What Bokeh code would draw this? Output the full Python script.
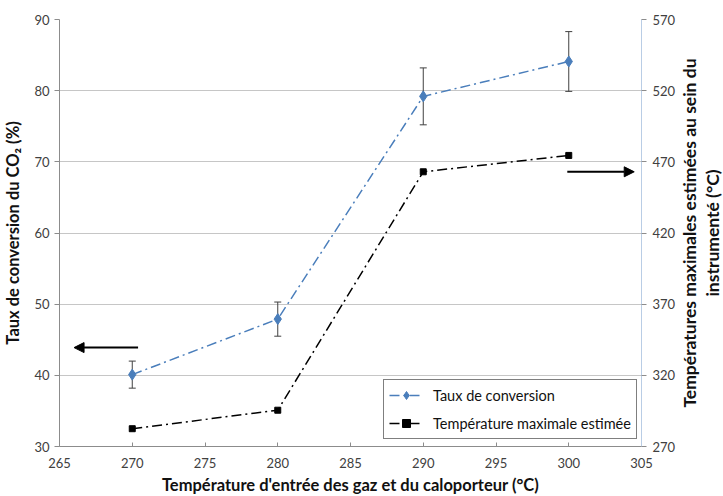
from bokeh.plotting import figure
from bokeh.layouts import row
from bokeh.models import (Range1d, LinearAxis, FixedTicker, ColumnDataSource, Whisker,
                          Arrow, NormalHead, Legend, LegendItem, Title)
from bokeh.embed import file_html
from bokeh.resources import INLINE

# ---- data ----
temp_in = [270, 280, 290, 300]
conversion = [40.1, 47.9, 79.2, 84.1]
conv_err = [1.9, 2.4, 4.0, 4.2]
temp_max = [282.5, 295.5, 463.0, 474.5]

x_ticks = [265, 270, 275, 280, 285, 290, 295, 300, 305]
left_ticks = [30, 40, 50, 60, 70, 80, 90]
right_ticks = [270, 320, 370, 420, 470, 520, 570]

arrow_left = dict(x_start=270.4, x_end=266.0, y=43.9)
arrow_right = dict(x_start=299.9, x_end=304.5, y=68.6)

RIGHT_LABEL_LINES = ["Températures maximales estimées au sein du", "instrumenté (°C)"]

FONT = "Lato"
BLUE = "#4a7ebb"
TICK_COLOR = "#404040"
TOP, BOTTOM = 19, 46

p = figure(frame_width=582, frame_height=427, output_backend="svg", toolbar_location=None,
           x_range=Range1d(265, 305), y_range=Range1d(30, 90),
           min_border_left=55, min_border_top=TOP, min_border_right=36, min_border_bottom=BOTTOM)
p.extra_y_ranges = {"temp": Range1d(270, 570)}
p.outline_line_color = None
p.background_fill_color = "white"
p.border_fill_color = "white"

p.xgrid.visible = False
p.ygrid.grid_line_color = "#c6c6c6"
p.ygrid.ticker = FixedTicker(ticks=left_ticks)

def style_axis(ax):
    ax.major_label_text_font = FONT
    ax.major_label_text_font_size = "13px"
    ax.major_label_text_color = TICK_COLOR
    ax.axis_label_text_font = FONT
    ax.axis_label_text_font_size = "16.5px"
    ax.axis_label_text_font_style = "bold"
    ax.axis_label_text_color = "#111111"
    ax.minor_tick_line_color = None
    ax.major_tick_line_color = "#8c8c8c"
    ax.axis_line_color = "#8c8c8c"

xa = p.xaxis[0]
xa.ticker = FixedTicker(ticks=x_ticks)
xa.axis_label = "Température d'entrée des gaz et du caloporteur (°C)"
style_axis(xa)
xa.major_tick_in = 4
xa.major_tick_out = 0
xa.major_label_standoff = 11
xa.axis_label_standoff = 4

ya = p.yaxis[0]
ya.ticker = FixedTicker(ticks=left_ticks)
ya.axis_label = "Taux de conversion du CO₂ (%)"
style_axis(ya)
ya.major_tick_in = 0
ya.major_tick_out = 5
ya.major_label_standoff = 5
ya.axis_label_standoff = 8

ra = LinearAxis(y_range_name="temp", ticker=FixedTicker(ticks=right_ticks))
style_axis(ra)
ra.axis_line_color = "#b9cde5"
ra.major_tick_in = 0
ra.major_tick_out = 5
ra.major_label_standoff = 6
p.add_layout(ra, "right")

src = ColumnDataSource(dict(x=temp_in, y=conversion,
                            lo=[c - e for c, e in zip(conversion, conv_err)],
                            hi=[c + e for c, e in zip(conversion, conv_err)],
                            t=temp_max))

w = Whisker(base="x", lower="lo", upper="hi", source=src, line_color="#404040", line_width=1)
w.upper_head.size = 7
w.lower_head.size = 7
w.upper_head.line_color = "#404040"
w.lower_head.line_color = "#404040"
p.add_layout(w)

l1 = p.line("x", "y", source=src, line_color=BLUE, line_width=1.5, line_dash="10 4 2 4")
m1 = p.scatter("x", "y", source=src, marker="diamond", size=11, fill_color=BLUE, line_color=BLUE)
l2 = p.line("x", "t", source=src, y_range_name="temp", line_color="black", line_width=1.5,
            line_dash="10 4 2 4")
m2 = p.scatter("x", "t", source=src, y_range_name="temp", marker="square", size=6,
               fill_color="black", line_color="black")

for a in (arrow_left, arrow_right):
    p.add_layout(Arrow(end=NormalHead(size=10, fill_color="black", line_color="black"),
                       x_start=a["x_start"], y_start=a["y"], x_end=a["x_end"], y_end=a["y"],
                       line_width=2, line_color="black"))

legend = Legend(items=[LegendItem(label="Taux de conversion", renderers=[l1, m1]),
                       LegendItem(label="Température maximale estimée", renderers=[l2, m2])],
                location=(324, 7), border_line_color="black", border_line_width=1,
                label_text_font=FONT, label_text_font_size="14.5px", label_text_color="#111111",
                glyph_width=34, label_standoff=10, spacing=8, padding=5, margin=0,
                background_fill_alpha=1.0)
p.add_layout(legend, "center")

# narrow side figure carrying the right-hand axis title (reads bottom to top)
p2 = figure(width=44, frame_height=427, output_backend="svg", toolbar_location=None,
            x_axis_location=None, y_axis_location=None,
            min_border_left=0, min_border_right=0, min_border_top=TOP, min_border_bottom=BOTTOM)
p2.grid.visible = False
p2.outline_line_color = None
p2.background_fill_color = "white"
p2.border_fill_color = "white"
# later-added titles sit farther from the frame: add the second line first
for line in reversed(RIGHT_LABEL_LINES):
    p2.add_layout(Title(text=line, align="center", text_font=FONT, text_font_size="17.5px",
                        text_font_style="bold", text_color="#111111", standoff=0, offset=0,
                        text_line_height=1.0), "left")

layout = row(p, p2, spacing=0)
open("out.html", "w").write(file_html(layout, INLINE))
